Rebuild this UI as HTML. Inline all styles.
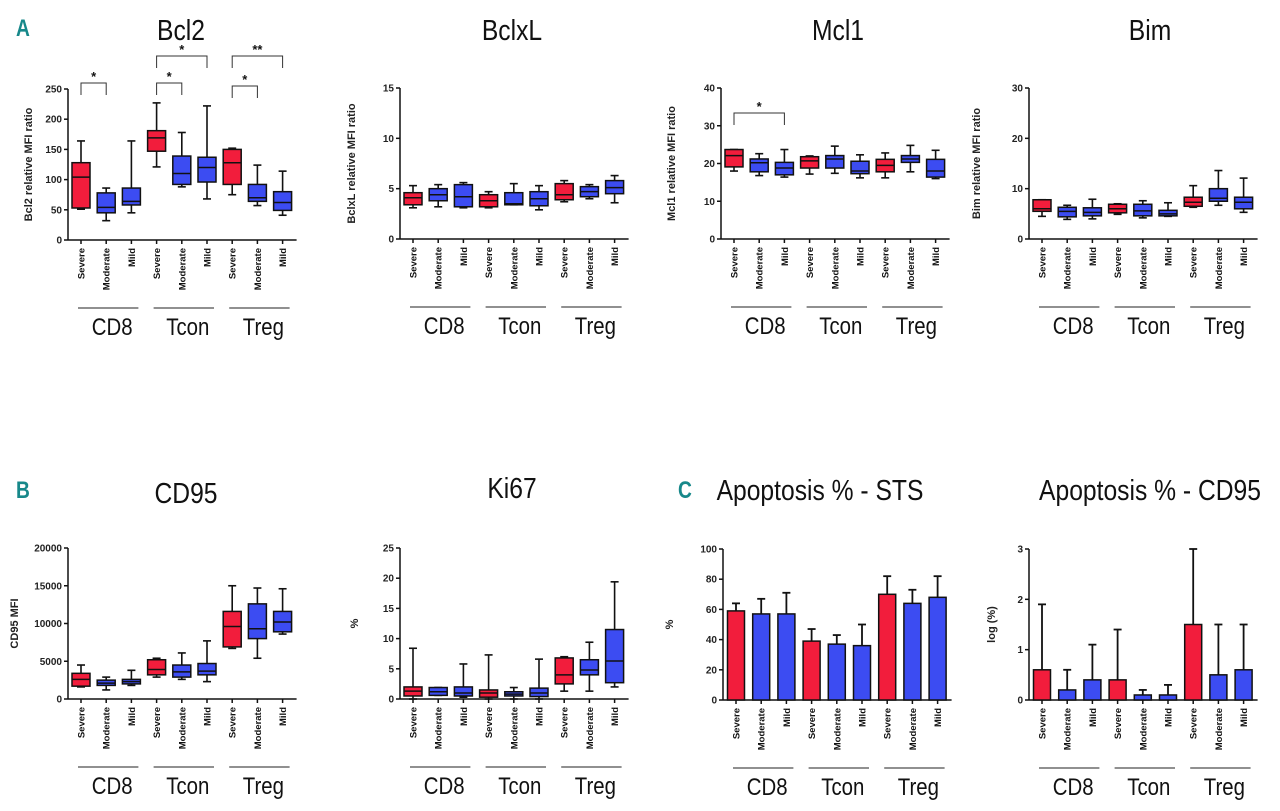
<!DOCTYPE html>
<html><head><meta charset="utf-8">
<style>
html,body{margin:0;padding:0;background:#fff;}
svg{display:block;font-family:"Liberation Sans",Arial,sans-serif;}
.tk{font-size:10px;font-weight:bold;fill:#222;}
.yt{font-size:11px;font-weight:bold;fill:#222;}
.cat{font-size:9.5px;font-weight:bold;fill:#111;}
</style></head>
<body>
<svg id="fig" width="1280" height="811" viewBox="0 0 1280 811" xmlns="http://www.w3.org/2000/svg"></svg>
<script>
const categories = ["Severe","Moderate","Mild","Severe","Moderate","Mild","Severe","Moderate","Mild"];
const groups = ["CD8","Tcon","Treg"];
const severity = ["severe","mild-mod","mild-mod","severe","mild-mod","mild-mod","severe","mild-mod","mild-mod"];

// box plots: [min, q1, median, q3, max]
const bcl2Boxes = [[51,53,104,128,164],[32,45,54,78,86],[45,58,64,86,164],[121,147,169,181,227],[88,92,110,139,178],[68,96,120,137,222],[75,92,128,150,152],[57,64,70,92,124],[41,49,62,80,114]];
const bclxlBoxes = [[3.1,3.4,4.1,4.6,5.3],[3.2,3.8,4.4,5.0,5.4],[3.1,3.2,4.2,5.4,5.6],[3.1,3.2,3.8,4.4,4.7],[3.4,3.4,3.5,4.6,5.5],[2.9,3.3,4.0,4.7,5.3],[3.7,3.9,4.4,5.5,5.8],[4.0,4.2,4.7,5.2,5.4],[3.6,4.5,5.1,5.8,6.3]];
const mcl1Boxes = [[18,19.1,22.1,23.7,23.7],[16.8,17.8,20.2,21.2,22.6],[16.4,17,18.8,20.3,23.7],[17.2,18.8,20.7,21.8,22],[17.4,18.8,21.2,22.1,24.6],[16.2,17.3,18,20.6,22.3],[16.2,17.8,19.5,21.1,22.8],[17.8,20.3,21.2,22.1,24.8],[16,16.4,18,21.1,23.5]];
const bimBoxes = [[4.5,5.5,6,7.8,7.8],[3.9,4.4,5.5,6.3,6.7],[4,4.6,5.3,6.2,7.9],[4.9,5.2,6,6.9,7],[4.2,4.6,5.6,6.9,7.6],[4.5,4.6,5,5.7,7.2],[6.3,6.5,7.3,8.3,10.6],[6.7,7.5,8.1,10,13.6],[5.3,6,7.3,8.3,12.1]];
const cd95Boxes = [[1600,1700,2600,3400,4500],[1200,1800,2100,2500,2900],[1800,2000,2300,2600,3800],[2900,3200,3900,5200,5400],[2600,2900,3600,4500,6100],[2300,3200,3700,4700,7700],[6700,6900,9600,11600,15000],[5400,8000,9300,12600,14700],[8600,8900,10200,11600,14600]];
const ki67Boxes = [[0,0.5,1.3,2,8.4],[0.6,0.6,1.2,1.9,1.9],[0.3,0.5,1.0,2.0,5.8],[0,0.3,1.0,1.5,7.3],[0,0.5,0.8,1.2,1.9],[0,0.4,1.0,1.8,6.6],[1.3,2.5,4.0,6.8,7.0],[1.3,4.0,4.8,6.5,9.4],[2.0,2.7,6.3,11.5,19.4]];
// bar charts
const stsMean = [59,57,57,39,37,36,70,64,68];
const stsErr = [64,67,71,47,43,50,82,73,82];
const logMean = [0.6,0.2,0.4,0.4,0.1,0.1,1.5,0.5,0.6];
const logErr = [1.9,0.6,1.1,1.4,0.2,0.3,3.0,1.5,1.5];
// tick labels
const bcl2Ticks = [0,50,100,150,200,250];
const bclxlTicks = [0,5,10,15];
const mcl1Ticks = [0,10,20,30,40];
const bimTicks = [0,10,20,30];
const cd95Ticks = [0,5000,10000,15000,20000];
const ki67Ticks = [0,5,10,15,20,25];
const stsTicks = [0,20,40,60,80,100];
const logTicks = [0,1,2,3];

const svg = document.getElementById('fig');
const NS = "http://www.w3.org/2000/svg";
function mk(tag, attrs, parent){const e=document.createElementNS(NS,tag);for(const k in attrs)e.setAttribute(k,attrs[k]);(parent||svg).appendChild(e);return e;}
const RED="#f21d3c", BLUE="#3c4cf2";

function panel(o){
  const g = mk('g',{});
  
  
  const top=o.top, bot=o.top+151, ax=o.ax;
  const ymax=o.ticks[o.ticks.length-1];
  const y = v => bot - (v/ymax)*(bot-top);
  const x = i => ax+13+25.2*i;
  // title
  const t = mk('text',{x:0,y:0,'font-size':29,'text-anchor':'middle',fill:'#111',transform:`translate(${o.tx},${o.ty}) scale(0.85,1)`},g);
  t.textContent=o.title;
  
  
  // axes
  const yAxis = mk('line',{x1:ax,y1:top,x2:ax,y2:bot,stroke:'#111','stroke-width':1.5},g);
  
  
  const xAxis = mk('line',{x1:ax,y1:bot,x2:x(8)+14,y2:bot,stroke:'#111','stroke-width':1.5},g);
  
  
  o.ticks.forEach(v=>{
    mk('line',{x1:ax-4,y1:y(v),x2:ax,y2:y(v),stroke:'#111','stroke-width':1.5},g);
    const tl=mk('text',{x:ax-6,y:y(v)+3.5,'text-anchor':'end',class:'tk'},g);
    tl.textContent=v;
    
    
  });
  const yt=mk('text',{x:0,y:0,'text-anchor':'middle',class:'yt',transform:`translate(${ax-o.yto},${(top+bot)/2}) rotate(-90)`},g);
  yt.textContent=o.ytitle;
  
  
  // categories
  categories.forEach((c,i)=>{
    mk('line',{x1:x(i),y1:bot,x2:x(i),y2:bot+4,stroke:'#111','stroke-width':1.5},g);
    const cl=mk('text',{x:0,y:0,'text-anchor':'end',class:'cat',transform:`translate(${x(i)+3.5},${bot+8}) rotate(-90)`},g);
    cl.textContent=c;
    
    
  });
  groups.forEach((gname,k)=>{
    const x1=x(3*k)-3, x2=x(3*k+2)+7;
    const gl=mk('line',{x1:x1,y1:bot+68,x2:x2,y2:bot+68,stroke:'#222','stroke-width':1},g);
    
    
    const gt=mk('text',{x:0,y:0,'font-size':24,'text-anchor':'middle',fill:'#111',transform:`translate(${(x1+x2)/2+4},${bot+95}) scale(0.85,1)`},g);
    gt.textContent=gname;
    
    
  });
  // marks
  if(o.boxes){
    o.boxes.forEach((b,i)=>{
      const cx=x(i), w=18, col=severity[i]==='severe'?RED:BLUE;
      mk('line',{x1:cx,y1:y(b[0]),x2:cx,y2:y(b[4]),stroke:'#111','stroke-width':1.6},g);
      mk('line',{x1:cx-4,y1:y(b[0]),x2:cx+4,y2:y(b[0]),stroke:'#111','stroke-width':1.6},g);
      mk('line',{x1:cx-4,y1:y(b[4]),x2:cx+4,y2:y(b[4]),stroke:'#111','stroke-width':1.6},g);
      const r=mk('rect',{x:cx-w/2,y:y(b[3]),width:w,height:Math.max(1,y(b[1])-y(b[3])),fill:col,stroke:'#111','stroke-width':1.5},g);
      
      
      mk('line',{x1:cx-w/2,y1:y(b[2]),x2:cx+w/2,y2:y(b[2]),stroke:'#111','stroke-width':1.5},g);
    });
  } else {
    o.means.forEach((m,i)=>{
      const cx=x(i), w=17, col=severity[i]==='severe'?RED:BLUE;
      mk('line',{x1:cx,y1:y(m),x2:cx,y2:y(o.errs[i]),stroke:'#111','stroke-width':1.8},g);
      mk('line',{x1:cx-4,y1:y(o.errs[i]),x2:cx+4,y2:y(o.errs[i]),stroke:'#111','stroke-width':1.8},g);
      const r=mk('rect',{x:cx-w/2,y:y(m),width:w,height:bot-y(m),fill:col,stroke:'#111','stroke-width':1.5},g);
      
      
    });
  }
  (o.sig||[]).forEach(s=>{
    const x1=x(s[0]), x2=x(s[1]), yy=s[2];
    const p=mk('path',{d:`M${x1},${yy+12}V${yy}H${x2}V${yy+12}`,fill:'none',stroke:'#333','stroke-width':1},g);
    
    
    const st=mk('text',{x:(x1+x2)/2,y:yy-2,'text-anchor':'middle','font-size':13,'font-weight':'bold',fill:'#111'},g);
    st.textContent=s[3];
    
    
  });
}

panel({name:'bcl2',title:'Bcl2',tx:181,ty:40,ax:68,top:89,ticks:bcl2Ticks,ytitle:'Bcl2 relative MFI ratio',yto:36,boxes:bcl2Boxes,
  sig:[[0,1,83,'*'],[3,4,83,'*'],[3,5,56,'*'],[6,7,86,'*'],[6,8,56,'**']]});
panel({name:'bclxl',title:'BclxL',tx:512,ty:40,ax:400,top:88,ticks:bclxlTicks,ytitle:'BclxL relative MFI ratio',yto:45,boxes:bclxlBoxes});
panel({name:'mcl1',title:'Mcl1',tx:838,ty:40,ax:721,top:88,ticks:mcl1Ticks,ytitle:'Mcl1 relative MFI ratio',yto:46,boxes:mcl1Boxes,
  sig:[[0,2,113,'*']]});
panel({name:'bim',title:'Bim',tx:1150,ty:40,ax:1029,top:88,ticks:bimTicks,ytitle:'Bim relative MFI ratio',yto:49,boxes:bimBoxes});
panel({name:'cd95',title:'CD95',tx:186,ty:503,ax:68,top:548,ticks:cd95Ticks,ytitle:'CD95 MFI',yto:50,boxes:cd95Boxes});
panel({name:'ki67',title:'Ki67',tx:512,ty:498,ax:400,top:548,ticks:ki67Ticks,ytitle:'%',yto:42,boxes:ki67Boxes});
panel({name:'apoptosis-sts',title:'Apoptosis % - STS',tx:820,ty:500,ax:723,top:549,ticks:stsTicks,ytitle:'%',yto:50,means:stsMean,errs:stsErr});
panel({name:'apoptosis-cd95',title:'Apoptosis % - CD95',tx:1150,ty:500,ax:1029,top:549,ticks:logTicks,ytitle:'log (%)',yto:34,means:logMean,errs:logErr});

[['A',16,36],['B',16,498],['C',678,498]].forEach(l=>{
  const t=mk('text',{x:0,y:0,'font-size':24,'font-weight':'bold',fill:'#17888a',transform:`translate(${l[1]},${l[2]}) scale(0.8,1)`});
  t.textContent=l[0];
  
  
});
</script>
</body></html>
